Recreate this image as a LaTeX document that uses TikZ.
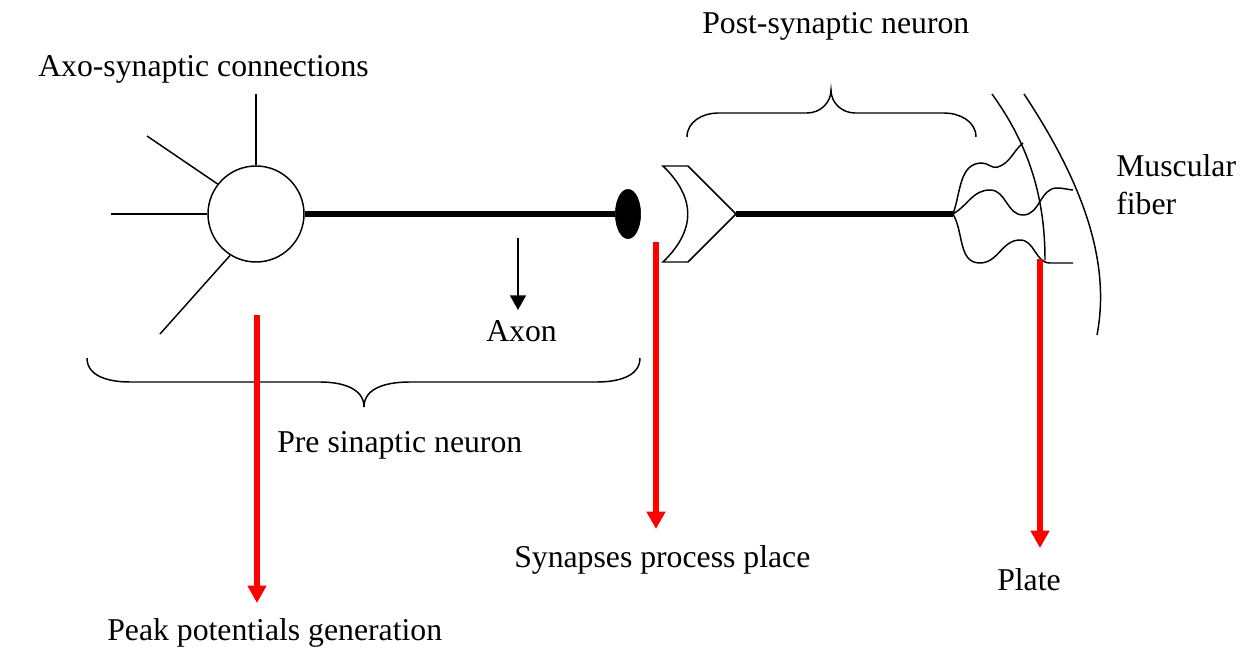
\documentclass[tikz,border=0pt]{standalone}
\usepackage{fontspec}
\setmainfont{Liberation Serif}
\usetikzlibrary{arrows.meta,shapes.geometric}
\tikzset{
  thin line/.style={line width=1.1pt},
  axon line/.style={line width=4.5pt},
  red arrow/.style={red, line width=4.3pt, -{Triangle[width=13.5pt,length=13pt]}},
  black arrow/.style={line width=1.1pt, -{Triangle[width=12pt,length=11pt]}},
  label/.style={anchor=base west, inner sep=0pt, font=\fontsize{23.8}{28.5}\selectfont}
}
\begin{document}
\begin{tikzpicture}[x=0.75pt,y=0.75pt]
\useasboundingbox (0,0) rectangle (1247,-648);
\node[draw, circle, thin line, minimum size=72pt, inner sep=0pt] (soma) at (256,-214) {};
\node[draw, fill=black, ellipse, minimum width=19pt, minimum height=37pt, inner sep=0pt] (bouton) at (628,-214) {};
\coordinate (d1) at (256,-94);
\coordinate (d2) at (147,-136);
\coordinate (d3) at (111,-214);
\coordinate (d4) at (160,-334);
\coordinate (spine) at (736,-214);
\coordinate (plate) at (953,-214);
\path[draw,thin line] (d1) -- (soma.north);
\path[draw,thin line] (d2) -- (soma.142);
\path[draw,thin line] (d3) -- (soma.west);
\path[draw,thin line] (d4) -- (soma.238);
\path[draw,axon line] (soma.east) -- (bouton.west);
\path[draw,thin line] (663,-166) -- (688,-166) -- (spine) -- (688,-262) -- (663,-262)
  .. controls (696,-230) and (696,-198) .. (663,-166) -- cycle;
\path[draw,axon line] (spine) -- (plate);
\path[draw,thin line] (plate) to[out=70,in=180] (982,-163) to[out=0,in=200] (998,-167) to[out=20,in=220] (1023,-143);
\path[draw,thin line] (plate) to[out=30,in=180] (990,-190) to[out=0,in=180] (1023,-215) to[out=0,in=180] (1057,-188) to[out=0,in=175] (1073,-190);
\path[draw,thin line] (plate) to[out=-60,in=180] (980,-263) to[out=0,in=180] (1020,-240) to[out=0,in=180] (1050,-263) -- (1073,-263);
\path[draw,thin line] (992,-94) .. controls (1025,-140) and (1045,-190) .. (1045,-260);
\path[draw,thin line] (1024,-94) .. controls (1083,-183) and (1111,-262) .. (1097,-335);
\path[draw,thin line] (87,-358) to[out=-90,in=180] (130,-382) -- (320,-382) to[out=0,in=90] (364,-407)
  to[out=90,in=180] (410,-382) -- (597,-382) to[out=0,in=-90] (640,-358);
\path[draw,thin line] (687,-137) to[out=90,in=180] (718,-113) -- (807,-113) to[out=0,in=-90] (831,-90)
  to[out=-90,in=180] (855,-113) -- (944,-113) to[out=0,in=90] (976,-137);
\node[label] (axo) at (38,-77) {Axo-synaptic connections};
\node[label] (post) at (702,-34) {Post-synaptic neuron};
\node[label, align=left] (fiber) at (1116,-215) {Muscular\\fiber};
\node[label] (axon) at (486,-342) {Axon};
\node[label] (pre) at (277,-453) {Pre sinaptic neuron};
\node[label] (synapses) at (514,-568) {Synapses process place};
\node[label] (plt) at (997,-590) {Plate};
\node[label] (peak) at (107,-640) {Peak potentials generation};
\coordinate (a1) at (518,-238);
\coordinate (a2) at (518,-310);
\coordinate (r1) at (257,-315);
\coordinate (r2) at (257,-603);
\coordinate (s1) at (656,-242);
\coordinate (s2) at (656,-529);
\coordinate (p1) at (1040,-259);
\coordinate (p2) at (1040,-548);
\path[draw,black arrow] (a1) -- (a2);
\path[draw,red arrow] (r1) -- (r2);
\path[draw,red arrow] (s1) -- (s2);
\path[draw,red arrow] (p1) -- (p2);
\end{tikzpicture}
\end{document}
